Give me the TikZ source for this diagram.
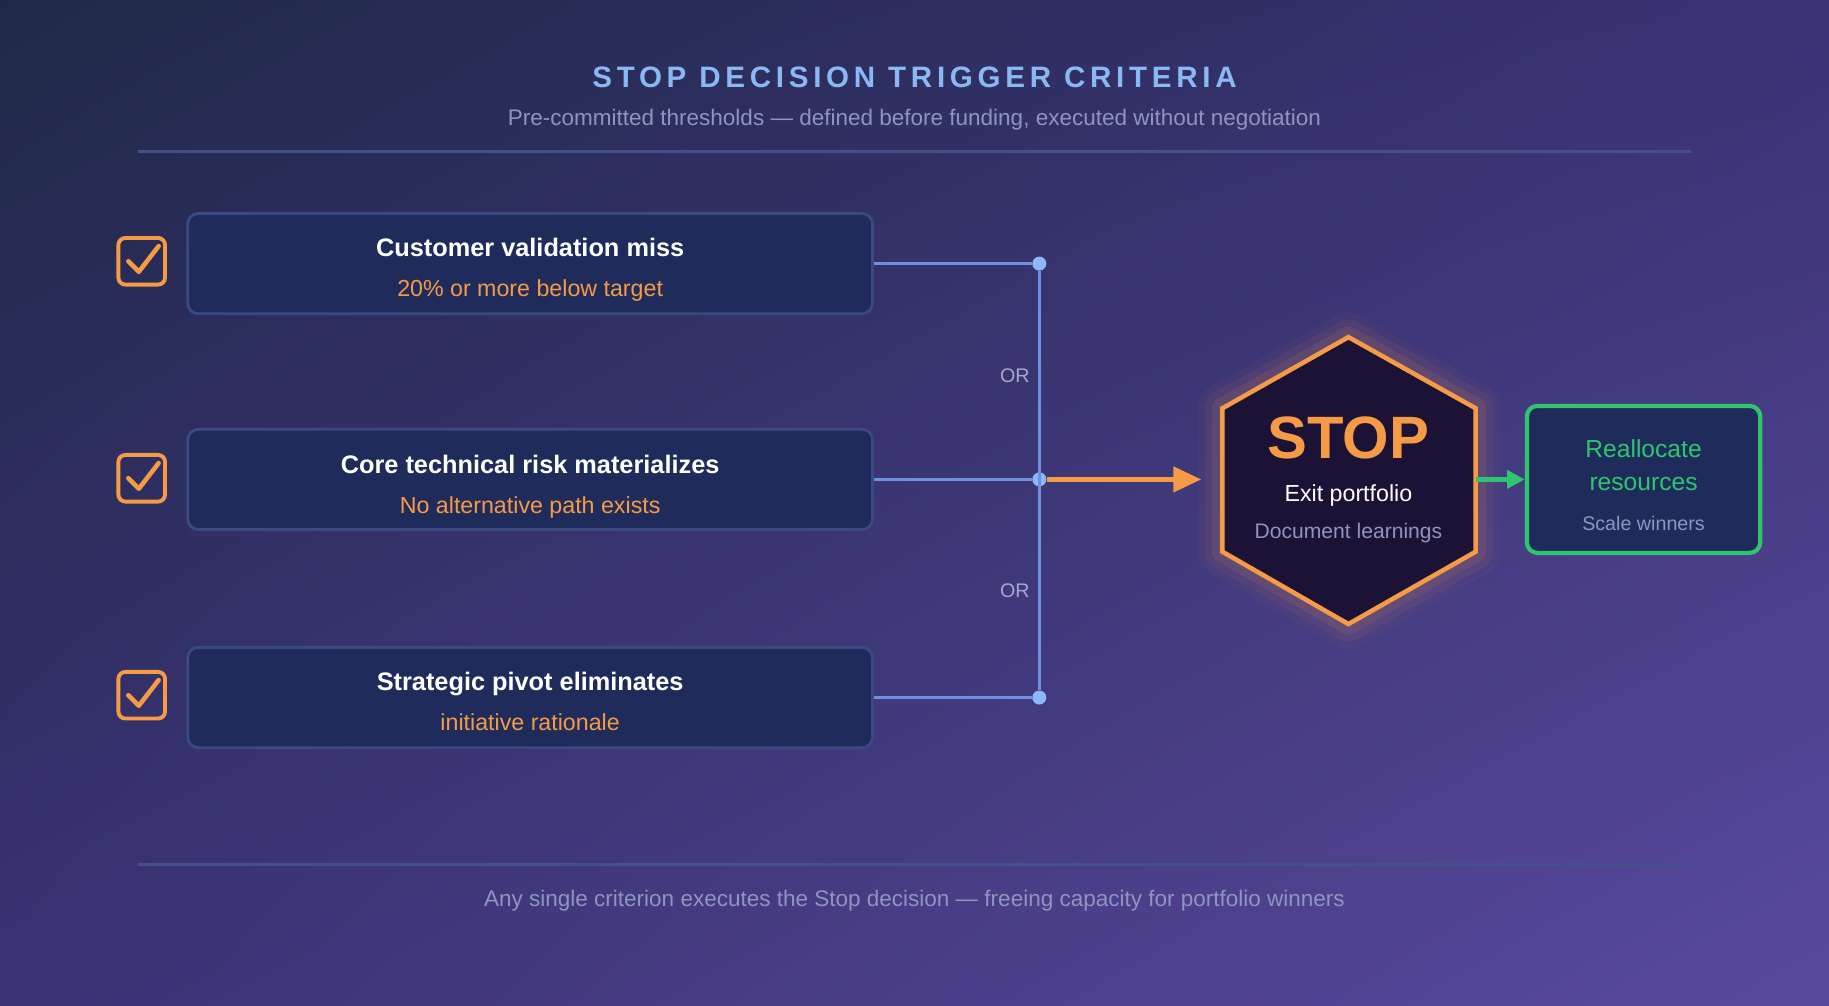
\documentclass[tikz,border=0pt]{standalone}
\usepackage{fontspec}
\setmainfont{Liberation Sans}
\usetikzlibrary{arrows.meta,positioning,shadings}
\definecolor{bgA}{HTML}{1F2947}
\definecolor{bgB}{HTML}{3A3275}
\definecolor{bgC}{HTML}{5A4A9E}
\definecolor{titleblue}{HTML}{8AB8F5}
\definecolor{subgray}{HTML}{8E95C0}
\definecolor{rulecol}{HTML}{44508A}
\definecolor{boxfill}{HTML}{1F2C5B}
\definecolor{boxdraw}{HTML}{3B4A82}
\definecolor{accent}{HTML}{F59A45}
\definecolor{wire}{HTML}{6F8FE0}
\definecolor{dotcol}{HTML}{8DB8F8}
\definecolor{hexfill}{HTML}{1B1236}
\definecolor{green}{HTML}{2FC46E}
\begin{document}
\begin{tikzpicture}[x=0.011665cm,y=-0.011665cm,>=Stealth]
  \tikzstyle{crit}=[draw=boxdraw,fill=boxfill,rounded corners=3pt,line width=0.8pt,
                    minimum width=587*0.011665cm,minimum height=86*0.011665cm]
  \tikzstyle{check}=[draw=accent,rounded corners=2pt,line width=1.1pt,
                    minimum size=40*0.011665cm]
  \tikzstyle{head}=[text=white,font=\bfseries\fontsize{7.2pt}{9pt}\selectfont,
                    text height=1.5ex,text depth=.3ex]
  \tikzstyle{sub}=[text=accent,font=\fontsize{6.6pt}{8pt}\selectfont,
                    text height=1.5ex,text depth=.3ex]
  \tikzstyle{dot}=[circle,fill=dotcol,inner sep=0pt,minimum size=4pt]
  \tikzstyle{note}=[text=subgray,font=\fontsize{5.6pt}{7pt}\selectfont]

  % background
  \shade[upper left=bgA,upper right=bgB,lower left=bgB,lower right=bgC]
    (0,0) rectangle (1568,862);
  \useasboundingbox (0,0) rectangle (1568,862);

  % heading
  \node[text=titleblue,font=\bfseries\fontsize{8.4pt}{10pt}\selectfont\addfontfeatures{LetterSpace=16}]
    (title) at (784,66) {STOP DECISION TRIGGER CRITERIA};
  \node[text=subgray,font=\fontsize{6.4pt}{8pt}\selectfont] (subtitle) at (784,103)
    {Pre-committed thresholds — defined before funding, executed without negotiation};
  \draw[rulecol,line width=0.8pt] (118,130) -- (1450,130);

  % criteria
  \node[crit] (c1) at (454.5,226) {};
  \node[crit] (c2) at (454.5,411) {};
  \node[crit] (c3) at (454.5,598) {};
  \node[head] at (454.5,210) {Customer validation miss};
  \node[sub]  at (454.5,245) {20\% or more below target};
  \node[head] at (454.5,396) {Core technical risk materializes};
  \node[sub]  at (454.5,431) {No alternative path exists};
  \node[head] at (454.5,582) {Strategic pivot eliminates};
  \node[sub]  at (454.5,617) {initiative rationale};

  \foreach \y/\n in {224/k1,410/k2,596/k3}{
    \node[check] (\n) at (121.5,\y) {};
    \draw[accent,line width=1.3pt,line cap=round,line join=round]
      (110,\y) -- (119,\y+9) -- (136,\y-13);
  }

  % wiring
  \node[dot] (d1) at (891,226) {};
  \node[dot] (d2) at (891,411) {};
  \node[dot] (d3) at (891,598) {};
  \draw[wire,line width=1pt] (c1.east) -- (d1) (c2.east) -- (d2) (c3.east) -- (d3);
  \draw[wire,line width=1pt] (d1) -- (d3);
  \node[note,text=subgray!80] at (870,322) {OR};
  \node[note,text=subgray!80] at (870,506) {OR};

  % stop hexagon
  \foreach \w/\o in {14/0.04,10/0.06,6/0.1}{
    \draw[accent,line width=\w pt,opacity=\o,line join=round]
      (1156,289) -- (1265,350) -- (1265,473) -- (1156,535) -- (1048,473) -- (1048,350) -- cycle;
  }
  \draw[accent,fill=hexfill,line width=1.3pt]
    (1156,289) -- (1265,350) -- (1265,473) -- (1156,535) -- (1048,473) -- (1048,350) -- cycle;
  \coordinate (hexW) at (1030,411);
  \coordinate (hexE) at (1265,411);
  \node[text=accent,font=\bfseries\fontsize{17pt}{19pt}\selectfont] (stop) at (1156,375) {STOP};
  \node[text=white,font=\fontsize{6.6pt}{8pt}\selectfont] (exit) at (1156,425) {Exit portfolio};
  \node[note,font=\fontsize{6pt}{7pt}\selectfont] (doc) at (1156,457) {Document learnings};
  \draw[accent,line width=1.6pt,-{Triangle[length=8pt,width=7pt]}] (d2) -- (hexW);

  % reallocate
  \node[draw=green,fill=boxfill,rounded corners=3pt,line width=1.2pt,
        minimum width=200*0.011665cm,minimum height=126*0.011665cm] (realloc) at (1409,411) {};
  \node[text=green,font=\fontsize{7pt}{8pt}\selectfont] at (1409,385) {Reallocate};
  \node[text=green,font=\fontsize{7pt}{8pt}\selectfont] at (1409,415) {resources};
  \node[note] at (1409,449) {Scale winners};
  \draw[green,line width=1.3pt,-{Triangle[length=5pt,width=5pt]}] (hexE) -- (realloc.west);

  % footer
  \draw[rulecol,line width=0.8pt] (118,741) -- (1450,741);
  \node[text=subgray,font=\fontsize{6.4pt}{8pt}\selectfont] (footer) at (784,772)
    {Any single criterion executes the Stop decision — freeing capacity for portfolio winners};
\end{tikzpicture}
\end{document}
